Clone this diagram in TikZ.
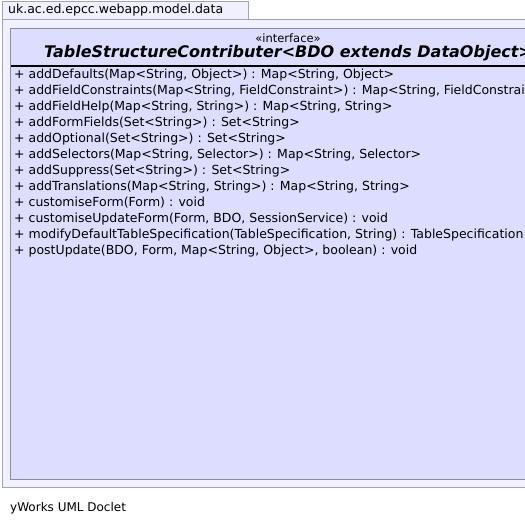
\documentclass[tikz,border=0pt]{standalone}
\usepackage{fontspec}
\setmainfont{DejaVu Sans}
\definecolor{pkgfill}{RGB}{240,240,255}
\definecolor{pkgline}{RGB}{164,164,180}
\definecolor{clsfill}{RGB}{221,221,255}
\definecolor{clsline}{RGB}{140,140,160}
\begin{document}
\begin{tikzpicture}[x=1pt,y=-1pt,
  pkgbox/.style={draw=pkgline,fill=pkgfill,line width=1pt},
  clsbox/.style={draw=clsline,fill=clsfill,line width=1pt},
  member/.style={anchor=west,inner sep=0pt,font=\fontsize{12.5}{14}\selectfont},
  ]
\useasboundingbox (0,0) rectangle (525,525);
\draw[pkgbox] (2.5,19.5) rectangle (574,487);
\draw[pkgbox] (2.5,1.5) rectangle (248,19.5);
\node[anchor=west,inner sep=0pt,font=\fontsize{12.5}{14}\selectfont] (pkg) at (8,10.5) {uk.ac.ed.epcc.webapp.model.data};
\draw[clsbox] (10.5,28.5) rectangle (565.5,479);
\node[inner sep=0pt,font=\fontsize{11.5}{13}\selectfont] (st) at (288,38) {«interface»};
\node[inner sep=0pt,font=\fontsize{16}{18}\selectfont\bfseries\itshape] (title) at (288,53) {TableStructureContributer<BDO extends DataObject>};
\coordinate (l1) at (10.5,66);
\coordinate (l2) at (565.5,66);
\draw[line width=2pt] (l1) -- (l2);
\foreach \i/\t in {0/{+ addDefaults(Map<String, Object>) : Map<String, Object>},
 1/{+ addFieldConstraints(Map<String, FieldConstraint>) : Map<String, FieldConstraint>},
 2/{+ addFieldHelp(Map<String, String>) : Map<String, String>},
 3/{+ addFormFields(Set<String>) : Set<String>},
 4/{+ addOptional(Set<String>) : Set<String>},
 5/{+ addSelectors(Map<String, Selector>) : Map<String, Selector>},
 6/{+ addSuppress(Set<String>) : Set<String>},
 7/{+ addTranslations(Map<String, String>) : Map<String, String>},
 8/{+ customiseForm(Form) : void},
 9/{+ customiseUpdateForm(Form, BDO, SessionService) : void},
 10/{+ modifyDefaultTableSpecification(TableSpecification, String) : TableSpecification},
 11/{+ postUpdate(BDO, Form, Map<String, Object>, boolean) : void}}
 {\node[member] (m\i) at (14,75+16*\i) {\t};}
\node[anchor=west,inner sep=0pt,font=\fontsize{12}{14}\selectfont] (foot) at (10,508) {yWorks UML Doclet};
\end{tikzpicture}
\end{document}
